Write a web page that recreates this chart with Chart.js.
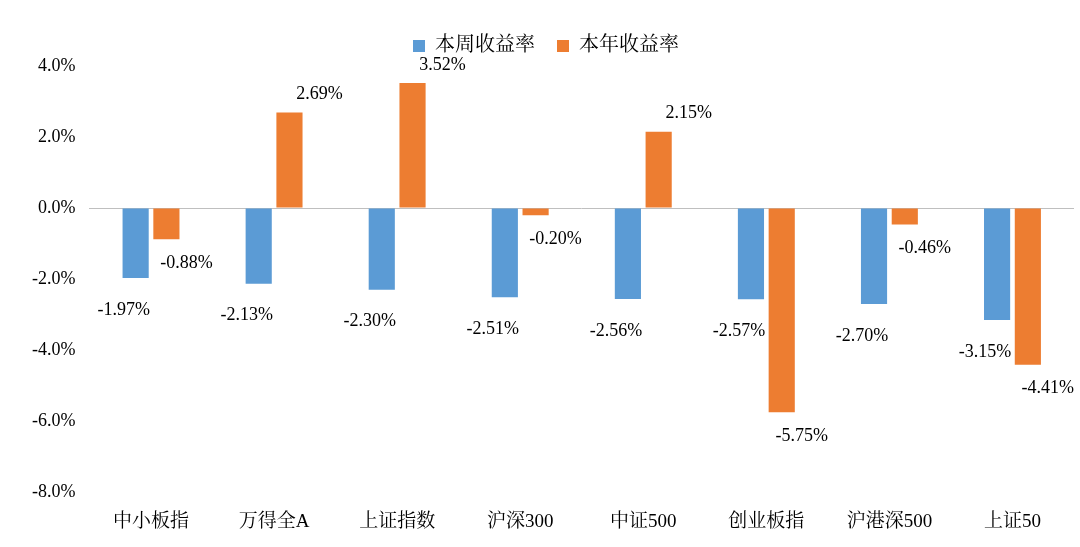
<!DOCTYPE html>
<html>
<head>
<meta charset="utf-8">
<script src="https://cdn.jsdelivr.net/npm/chart.js@4"></script>
<style>
  html, body { margin: 0; padding: 0; background: #fff; }
  #wrap { width: 1080px; height: 547px; }
</style>
</head>
<body>
<div id="wrap"><canvas id="chart" width="1080" height="547"></canvas></div>
<script>
// chart data
const categories = ["中小板指", "万得全A", "上证指数", "沪深300", "中证500", "创业板指", "沪港深500", "上证50"];
const weekReturn = [-1.97, -2.13, -2.30, -2.51, -2.56, -2.57, -2.70, -3.15];
const yearReturn = [-0.88, 2.69, 3.52, -0.20, 2.15, -5.75, -0.46, -4.41];
const seriesNames = ["本周收益率", "本年收益率"];

const FONT = "'Liberation Serif', 'Noto Serif CJK SC', 'Noto Sans CJK SC', serif";

// draw value labels next to bars, offset like the original
const valueLabels = {
  id: "valueLabels",
  afterDatasetsDraw(chart) {
    const ctx = chart.ctx;
    ctx.save();
    ctx.font = "18px " + FONT;
    ctx.fillStyle = "#000";
    ctx.textAlign = "center";
    ctx.textBaseline = "middle";
    chart.data.datasets.forEach((ds, di) => {
      chart.getDatasetMeta(di).data.forEach((bar, i) => {
        const v = ds.data[i];
        let x, y;
        if (di === 0) {
          x = bar.x - 12; y = bar.y + 32;
        } else if (v >= 0) {
          x = bar.x + 30; y = bar.y - 18;
        } else {
          x = bar.x + 20; y = bar.y + 24;
        }
        ctx.fillText(v.toFixed(2) + "%", x, y);
      });
    });
    ctx.restore();
  }
};

new Chart(document.getElementById("chart").getContext("2d"), {
  type: "bar",
  data: {
    labels: categories,
    datasets: [
      { label: seriesNames[0], data: weekReturn, backgroundColor: "#5B9BD5", categoryPercentage: 0.5, barPercentage: 0.85 },
      { label: seriesNames[1], data: yearReturn, backgroundColor: "#ED7D31", categoryPercentage: 0.5, barPercentage: 0.85 },
    ],
  },
  options: {
    responsive: false,
    animation: false,
    layout: { padding: { left: 18, right: 6, top: 14, bottom: 4 } },
    plugins: {
      legend: {
        position: "top",
        labels: { font: { size: 20, family: FONT }, color: "#000", boxWidth: 12, boxHeight: 12, padding: 22 },
      },
      tooltip: { enabled: false },
    },
    scales: {
      x: {
        grid: { display: false },
        border: { display: false },
        ticks: { font: { size: 19, family: FONT }, color: "#000", padding: 10 },
      },
      y: {
        min: -8, max: 4,
        ticks: {
          stepSize: 2,
          font: { size: 18, family: FONT },
          color: "#000",
          padding: 14,
          callback: (v) => v.toFixed(1) + "%",
        },
        border: { display: false },
        grid: {
          drawTicks: false,
          color: (c) => (c.tick && c.tick.value === 0 ? "#bfbfbf" : "rgba(0,0,0,0)"),
        },
      },
    },
  },
  plugins: [valueLabels],
});
</script>
</body>
</html>
